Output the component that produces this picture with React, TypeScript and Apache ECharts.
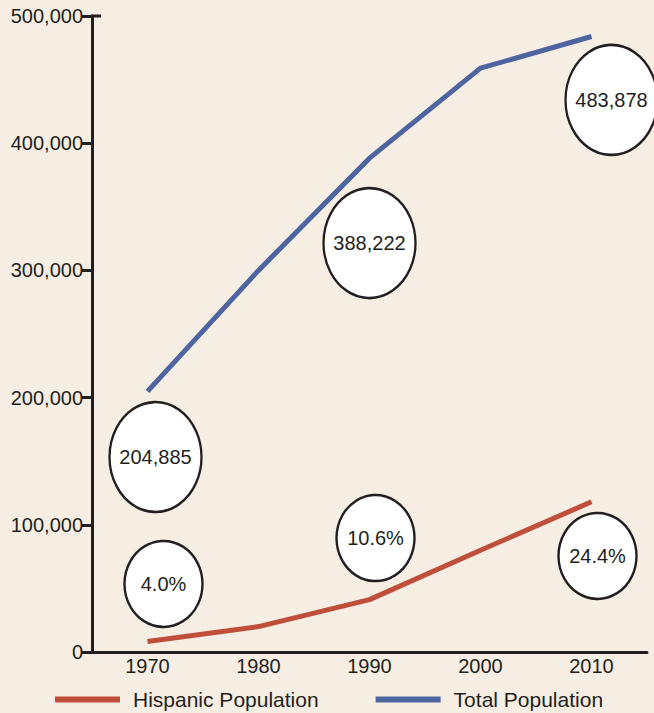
import React, { useEffect, useRef } from "react";
import * as echarts from "echarts";

const years = ["1970", "1980", "1990", "2000", "2010"];
const hispanic = [8195, 20000, 41151, 80000, 118066];
const total = [204885, 300000, 388222, 459000, 483878];

const noteLabels = ["204,885", "388,222", "483,878", "4.0%", "10.6%", "24.4%"];
const noteYears = ["1970", "1990", "2010", "1970", "1990", "2010"];
const noteValues = [153300, 321500, 434000, 53500, 89600, 75500];

const yMax = 500000;

const FONT = "'Liberation Sans', Arial, Helvetica, sans-serif";
const INK = "#231f20";

export default function App() {
  const ref = useRef<HTMLDivElement>(null);
  useEffect(() => {
    document.body.style.margin = "0";
    const chart = echarts.init(ref.current!, null, { renderer: "svg" });
    const offsets = [8, 0, 20, 16, 6, 6];
    const sizes = [[92, 110], [92, 110], [92, 110], [78, 86], [78, 86], [78, 86]];
    chart.setOption({
      animation: false,
      backgroundColor: "#f6eee2",
      textStyle: { fontFamily: FONT },
      grid: { left: 92, right: 7, top: 16, bottom: 61, containLabel: false },
      legend: {
        left: 55,
        top: 689,
        padding: 0,
        itemWidth: 65,
        itemHeight: 6,
        itemGap: 57,
        icon: "rect",
        textStyle: { fontSize: 21, color: INK, fontFamily: FONT, padding: [0, 0, 0, 8] },
        data: ["Hispanic Population", "Total Population"],
      },
      xAxis: {
        type: "category",
        data: years,
        boundaryGap: true,
        axisLine: { lineStyle: { color: INK, width: 3 } },
        axisTick: { inside: true, length: 20, lineStyle: { color: INK, width: 3 } },
        axisLabel: { fontSize: 20, color: INK, margin: 4, fontFamily: FONT },
        splitLine: { show: false },
      },
      yAxis: {
        type: "value",
        min: 0,
        max: yMax,
        interval: 100000,
        axisLine: { show: true, lineStyle: { color: INK, width: 3 } },
        axisTick: { show: true, length: 11, lineStyle: { color: INK, width: 3 } },
        axisLabel: {
          fontSize: 20,
          color: INK,
          margin: 9,
          padding: [8, 0, 0, 0],
          fontFamily: FONT,
          formatter: (v: number) => v.toLocaleString("en-US"),
        },
        splitLine: { show: false },
      },
      series: [
        {
          name: "Hispanic Population",
          type: "line",
          data: hispanic,
          symbol: "none",
          color: "#bf4f3a",
          lineStyle: { width: 5, color: "#bf4f3a" },
          z: 2,
        },
        {
          name: "Total Population",
          type: "line",
          data: total,
          symbol: "none",
          color: "#4e64a0",
          lineStyle: { width: 5, color: "#4e64a0" },
          z: 2,
        },
        {
          name: "notes",
          type: "scatter",
          z: 5,
          data: noteLabels.map((t, i) => ({
            value: [noteYears[i], noteValues[i]],
            symbolSize: sizes[i],
            symbolOffset: [offsets[i], 0],
            label: {
              show: true,
              position: "inside",
              formatter: t,
              fontSize: 20,
              color: INK,
              fontFamily: FONT,
            },
          })),
          symbol: "circle",
          itemStyle: { color: "#ffffff", borderColor: INK, borderWidth: 2.5, opacity: 1 },
          emphasis: { disabled: true },
        },
      ],
    });
    const topY = chart.convertToPixel({ yAxisIndex: 0 }, yMax) as number;
    const axisX = chart.convertToPixel({ xAxisIndex: 0 }, 0) as number;
    const gridLeft = 92;
    if (typeof topY === "number" && !isNaN(axisX)) {
      chart.setOption({
        graphic: [
          {
            type: "line",
            shape: { x1: gridLeft - 1, y1: topY, x2: gridLeft + 9, y2: topY },
            style: { stroke: INK, lineWidth: 3 },
            z: 10,
          },
        ],
      });
    }
    return () => chart.dispose();
  }, []);
  return <div ref={ref} style={{ width: 654, height: 713 }} />;
}
